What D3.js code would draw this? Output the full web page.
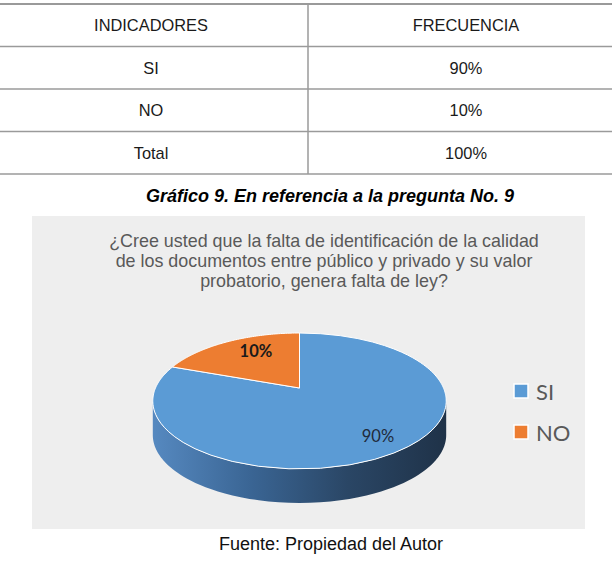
<!DOCTYPE html>
<html><head><meta charset="utf-8">
<script src="https://cdn.jsdelivr.net/npm/d3@7"></script>
<style>html,body{margin:0;padding:0;background:#fff;}</style>
</head><body>
<svg id="c" width="612" height="574"></svg>
<script>
// ---- data ----
const tableHeaders = ["INDICADORES", "FRECUENCIA"];
const tableLabels = ["SI", "NO", "Total"];
const tableValues = ["90%", "10%", "100%"];
const categories = ["SI", "NO"];
const values = [90, 10];
const valueLabels = ["90%", "10%"];
const figureTitle = "Gráfico 9. En referencia a la pregunta No. 9";
const chartTitle = ["¿Cree usted que la falta de identificación de la calidad",
                    "de los documentos entre público y privado y su valor",
                    "probatorio, genera falta de ley?"];
const sourceNote = "Fuente: Propiedad del Autor";

const svg = d3.select("#c");
svg.append("rect").attr("width", 612).attr("height", 574).attr("fill", "#fff");

// ---- table ----
const rowY = d3.scalePoint().domain(d3.range(5)).range([4, 174]);
const colX = d3.scaleOrdinal().domain([0, 1]).range([151, 466]);
const tbl = svg.append("g");
d3.range(5).forEach(i => {
  tbl.append("line").attr("x1", 0).attr("x2", 612)
    .attr("y1", rowY(i)).attr("y2", rowY(i))
    .attr("stroke", "#9a9a9a").attr("stroke-width", i === 0 ? 2 : 1.5);
});
tbl.append("line").attr("x1", 308).attr("x2", 308).attr("y1", 4).attr("y2", 174)
  .attr("stroke", "#9a9a9a").attr("stroke-width", 1.5);
const rows = [tableHeaders].concat(tableLabels.map((l, i) => [l, tableValues[i]]));
rows.forEach((r, i) => {
  r.forEach((t, j) => {
    tbl.append("text").attr("x", colX(j)).attr("y", (rowY(i) + rowY(i + 1)) / 2 + 6)
      .attr("text-anchor", "middle")
      .attr("font-family", "Liberation Sans, Arial, sans-serif")
      .attr("font-size", 16.4).attr("fill", "#1a1a1a").text(t);
  });
});

// ---- figure title ----
svg.append("text").attr("x", 330).attr("y", 202).attr("text-anchor", "middle")
  .attr("font-family", "Liberation Sans, Arial, sans-serif")
  .attr("font-size", 18).attr("font-weight", "bold").attr("font-style", "italic")
  .attr("fill", "#000").text(figureTitle);

// ---- chart panel ----
svg.append("rect").attr("x", 32).attr("y", 216).attr("width", 553).attr("height", 313)
  .attr("fill", "#eeeeee");

svg.append("g").selectAll("text").data(chartTitle).join("text")
  .attr("x", 324).attr("y", (d, i) => 247 + i * 20)
  .attr("text-anchor", "middle")
  .attr("font-family", "Liberation Sans, Arial, sans-serif")
  .attr("font-size", 17.9).attr("fill", "#595959").text(d => d);

// ---- 3D pie ----
const colors = d3.scaleOrdinal().domain(categories).range(["#5b9bd5", "#ed7d31"]);
const sideStops = {
  SI: ["#5689c0", "#3a6594", "#2a4665", "#1f3248"],
  NO: ["#d9752f", "#b85f22", "#8c4719", "#6a3612"]
};
const P = {cx: 299.5, cy: 388, A: 144, B: 65.5, p: 0.191, k: 3.78, D: 34};
const warp = a => Math.atan2(P.k * Math.sin(a), Math.cos(a));
function projT(t, r) {
  const den = 1 + P.p * r * Math.cos(t);
  return [P.cx + P.A * r * Math.sin(t) / den, P.cy - P.B * r * Math.cos(t) / den];
}
const proj = (a, r) => projT(warp(a), r);

const pie = d3.pie().sort(null).value(d => d).startAngle(0).endAngle(2 * Math.PI);
const arcs = pie(values).map((d, i) => Object.assign(d, {cat: categories[i], lab: valueLabels[i]}));

const defs = svg.append("defs");
categories.forEach(c => {
  const g = defs.append("linearGradient").attr("id", "side" + c)
    .attr("gradientUnits", "userSpaceOnUse")
    .attr("x1", P.cx - P.A * 1.02).attr("x2", P.cx + P.A * 1.02).attr("y1", 0).attr("y2", 0);
  sideStops[c].forEach((s, i, arr) => g.append("stop")
    .attr("offset", i / (arr.length - 1)).attr("stop-color", s));
});

const tS = Math.acos(-P.p);
const aS = Math.atan2(Math.sin(tS) / P.k, Math.cos(tS));
const visLo = aS, visHi = 2 * Math.PI - aS;
const N = 120;
const gp = svg.append("g");
// sides
arcs.forEach(d => {
  const b0 = Math.max(d.startAngle, visLo), b1 = Math.min(d.endAngle, visHi);
  if (b1 <= b0) return;
  const top = d3.range(N + 1).map(i => proj(b0 + (b1 - b0) * i / N, 1));
  const bot = top.slice().reverse().map(q => [q[0], q[1] + P.D]);
  gp.append("path").attr("d", d3.line()(top.concat(bot)) + "Z")
    .attr("fill", "url(#side" + d.cat + ")");
});
// tops
arcs.forEach(d => {
  const pts = [[P.cx, P.cy]].concat(d3.range(N + 1).map(i =>
    proj(d.startAngle + (d.endAngle - d.startAngle) * i / N, 1)));
  gp.append("path").attr("d", d3.line()(pts) + "Z")
    .attr("fill", colors(d.cat)).attr("stroke", "#fff").attr("stroke-width", 1)
    .attr("stroke-linejoin", "round");
});
// labels
arcs.forEach(d => {
  let t0 = warp(d.startAngle), t1 = warp(d.endAngle);
  if (t1 <= t0) t1 += 2 * Math.PI;
  const tm = (t0 + t1) / 2 + (d.cat === "NO" ? 0.12 : -0.03);
  const pt = projT(tm, d.cat === "NO" ? 0.72 : 0.8);
  gp.append("text").attr("x", pt[0]).attr("y", pt[1])
    .attr("text-anchor", "middle").attr("dominant-baseline", "central")
    .attr("font-family", "Lato, Carlito, sans-serif")
    .attr("font-size", 16.5).attr("font-weight", d.cat === "NO" ? "bold" : "normal")
    .attr("fill", d.cat === "NO" ? "#1a1a1a" : "#1f2a3a").text(d.lab);
});

// ---- legend ----
const ly = d3.scalePoint().domain(categories).range([391, 432]);
const lg = svg.append("g");
categories.forEach(c => {
  lg.append("rect").attr("x", 514).attr("y", ly(c) - 7).attr("width", 14).attr("height", 14)
    .attr("fill", colors(c)).attr("stroke", "#fff").attr("stroke-width", 1.5);
  lg.append("text").attr("x", 536).attr("y", ly(c)).attr("dominant-baseline", "central")
    .attr("font-family", "Lato, Carlito, sans-serif").attr("font-size", 22)
    .attr("fill", "#595959").text(c);
});

// ---- source ----
svg.append("text").attr("x", 331).attr("y", 550).attr("text-anchor", "middle")
  .attr("font-family", "Liberation Sans, Arial, sans-serif")
  .attr("font-size", 18).attr("fill", "#111").text(sourceNote);
</script>
</body></html>
